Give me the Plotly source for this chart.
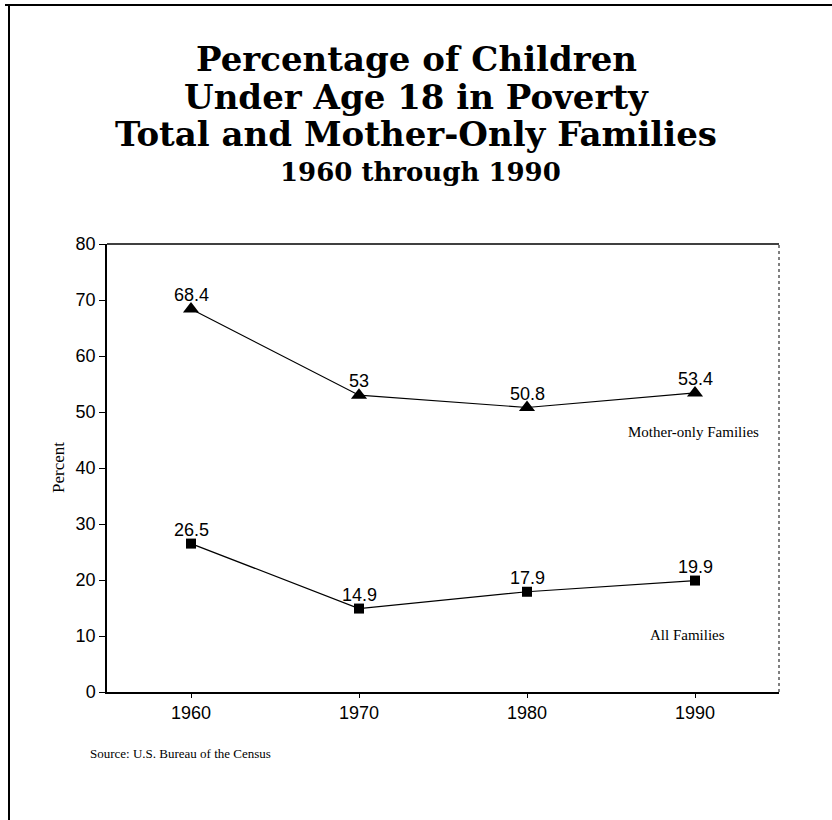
import plotly.graph_objects as go

years = [1960, 1970, 1980, 1990]
mother_only = [68.4, 53, 50.8, 53.4]
all_families = [26.5, 14.9, 17.9, 19.9]
mother_labels = ["68.4", "53", "50.8", "53.4"]
all_labels = ["26.5", "14.9", "17.9", "19.9"]
y_ticks = [0, 10, 20, 30, 40, 50, 60, 70, 80]
title_lines = ["Percentage of Children", "Under Age 18 in Poverty",
               "Total and Mother-Only Families"]
subtitle = "1960 through 1990"

W, H = 832, 820
L, R, T, B = 107, 53, 244, 128
PW, PH = W - L - R, H - T - B

def px(x):
    return (x - L) / PW

def py(y):
    return (H - B - y) / PH

fig = go.Figure()
fig.add_trace(go.Scatter(
    x=years, y=mother_only, mode="lines+markers",
    line=dict(color="black", width=1.2),
    marker=dict(symbol="triangle-up", size=14, color="black"),
    cliponaxis=False, showlegend=False))
fig.add_trace(go.Scatter(
    x=years, y=all_families, mode="lines+markers",
    line=dict(color="black", width=1.2),
    marker=dict(symbol="square", size=10, color="black"),
    cliponaxis=False, showlegend=False))

ann = []
for xs, ys, labs in [(years, mother_only, mother_labels), (years, all_families, all_labels)]:
    for x, y, t in zip(xs, ys, labs):
        ann.append(dict(text=t, x=x, y=y, xref="x", yref="y", showarrow=False,
                        xanchor="center", yanchor="middle", yshift=14,
                        font=dict(family="Liberation Sans, Arial", size=18, color="black")))

title_y = [59, 97, 134]
for t, yy in zip(title_lines, title_y):
    ann.append(dict(text="<b>" + t + "</b>", x=px(416), y=py(yy), xref="paper", yref="paper",
                    showarrow=False, xanchor="center", yanchor="middle",
                    font=dict(family="DejaVu Serif", size=34, color="black")))
ann.append(dict(text="<b>" + subtitle + "</b>", x=px(420), y=py(172), xref="paper", yref="paper",
                showarrow=False, xanchor="center", yanchor="middle",
                font=dict(family="DejaVu Serif", size=26, color="black")))
ann.append(dict(text="Mother-only Families", x=px(693), y=py(432), xref="paper", yref="paper",
                showarrow=False, xanchor="center", yanchor="middle",
                font=dict(family="Liberation Serif", size=15, color="black")))
ann.append(dict(text="All Families", x=px(687), y=py(635), xref="paper", yref="paper",
                showarrow=False, xanchor="center", yanchor="middle",
                font=dict(family="Liberation Serif", size=15, color="black")))
ann.append(dict(text="Source: U.S. Bureau of the Census", x=px(88), y=py(753), xref="paper", yref="paper",
                showarrow=False, xanchor="left", yanchor="middle",
                font=dict(family="Liberation Serif", size=13, color="black")))
ann.append(dict(text="Percent", x=px(58), y=py(468), xref="paper", yref="paper",
                showarrow=False, xanchor="center", yanchor="middle", textangle=-90,
                font=dict(family="Liberation Serif", size=17, color="black")))

shapes = [
    dict(type="line", xref="paper", yref="paper", x0=px(5), x1=px(832), y0=py(5), y1=py(5),
         line=dict(color="black", width=2)),
    dict(type="line", xref="paper", yref="paper", x0=px(9), x1=px(9), y0=py(5), y1=py(820),
         line=dict(color="black", width=2)),
    dict(type="line", xref="paper", yref="paper", x0=1, x1=1, y0=0, y1=1,
         line=dict(color="black", width=1, dash="dot")),
    dict(type="line", xref="paper", yref="paper", x0=0, x1=1, y0=1, y1=1,
         line=dict(color="black", width=1.5)),
]

fig.update_layout(
    width=W, height=H,
    margin=dict(l=L, r=R, t=T, b=B),
    paper_bgcolor="white", plot_bgcolor="white",
    annotations=ann, shapes=shapes,
    xaxis=dict(range=[1955, 1995], tickvals=years, ticktext=[str(y) for y in years],
               showgrid=False, zeroline=False, showline=True, linecolor="black", linewidth=1.5,
               mirror=False, ticks="outside", ticklen=4, tickcolor="black",
               tickfont=dict(family="Liberation Sans, Arial", size=18, color="black")),
    yaxis=dict(range=[0, 80], tickvals=y_ticks, showgrid=False, zeroline=False,
               showline=True, linecolor="black", linewidth=1.5,
               ticks="outside", ticklen=6, tickcolor="black",
               tickfont=dict(family="Liberation Sans, Arial", size=18, color="black")),
)

fig.write_html("out.html")
